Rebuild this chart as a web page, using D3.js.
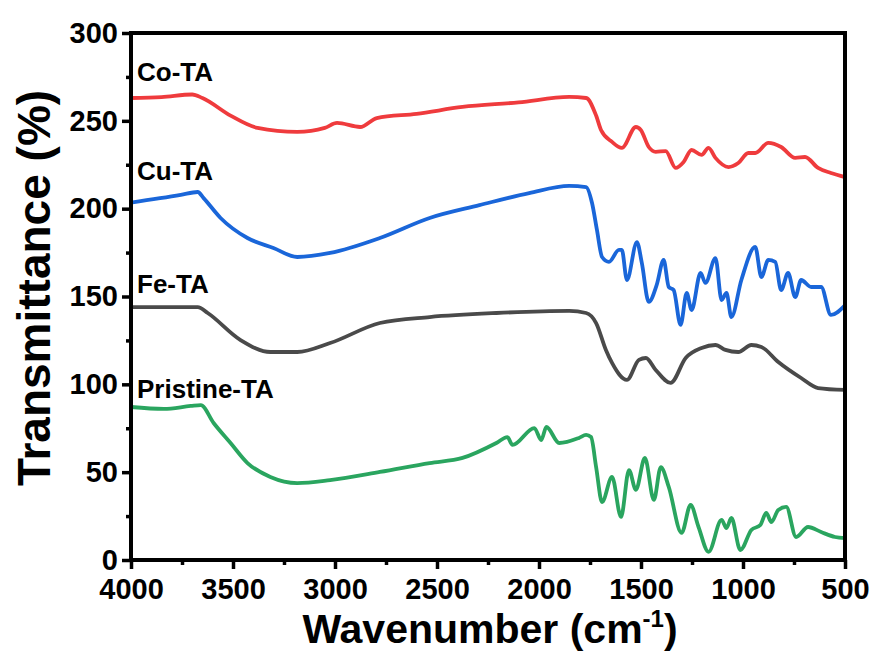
<!DOCTYPE html>
<html>
<head>
<meta charset="utf-8">
<script src="https://cdn.jsdelivr.net/npm/d3@7"></script>
<style>
  body { margin: 0; background: #fff; }
  text { font-family: "Liberation Sans", Arial, sans-serif; font-weight: bold; }
</style>
</head>
<body>
<div id="chart"></div>
<script>
// FTIR spectra, values as [wavenumber, transmittance]
var coTA = [[4000,263],[3850,263.5],[3700,265],[3650,263],[3512,253],[3380,246],[3185,243.7],[3050,246],[2990,248.8],[2877,246.5],[2795,251.6],[2600,254],[2375,257.9],[2100,260.5],[1852,263.6],[1769,263],[1720,253],[1696,244.8],[1642,238],[1594,234.6],[1525,246.5],[1501,244.8],[1462,235.1],[1428,232.3],[1379,232.8],[1330,223.2],[1291,226.6],[1252,233.4],[1203,230.6],[1169,234.6],[1135,228.9],[1071,223.7],[1023,226],[974,231.7],[940,231.7],[876,237.4],[813,235.1],[744,228.9],[696,229.4],[632,223.2],[569,220.3],[500,218]];

var cuTA = [[4000,203.5],[3756,207.8],[3673,209.5],[3644,206],[3561,194.7],[3429,183.3],[3302,177.6],[3185,172.5],[3024,174.8],[2780,183.3],[2536,194.7],[2292,202],[2048,208.9],[1852,213],[1769,212.3],[1740,203.2],[1716,187.9],[1691,172.5],[1657,169.7],[1608,176.5],[1594,176.5],[1569,159.4],[1520,181],[1496,169.1],[1462,146.9],[1423,156.6],[1389,170.8],[1364,155.4],[1340,153.7],[1306,133.8],[1276,152],[1252,142.3],[1208,163.4],[1184,157.7],[1135,171.9],[1105,148],[1081,152],[1057,138.3],[1008,159.4],[940,178.2],[910,161.1],[876,170.8],[842,169.7],[813,153.7],[779,163.4],[744,149.7],[715,159.4],[666,155.4],[617,155.4],[569,139.5],[500,145]];

var feTA = [[4000,144],[3673,144],[3624,140.6],[3463,125.2],[3317,118.4],[3185,118.4],[3024,123.5],[2780,134.9],[2536,138.3],[2209,140.6],[1852,141.8],[1769,140.6],[1720,134.9],[1672,119.6],[1642,112.2],[1569,102.5],[1510,113.9],[1476,115],[1428,108.2],[1355,100.8],[1281,115],[1203,120.7],[1135,122.4],[1086,119.6],[1023,118.4],[959,122.4],[910,121.3],[827,112.7],[715,103.6],[632,97.9],[500,96.8]];

var pristineTA = [[4000,87.1],[3839,86],[3707,87.7],[3658,88.2],[3595,78],[3512,66.6],[3429,55.2],[3317,47.3],[3185,43.8],[3024,45.5],[2780,50.1],[2536,55.2],[2375,58.1],[2209,66.6],[2155,70],[2130,65.5],[2023,75.1],[1989,68.3],[1964,75.7],[1901,66.6],[1804,69.5],[1769,71.2],[1745,70],[1720,52.9],[1691,33],[1642,47.3],[1598,24.5],[1559,51.2],[1525,39.9],[1481,58.1],[1437,34.2],[1403,52.9],[1364,41.6],[1301,15.4],[1257,31.3],[1218,18.8],[1169,4.6],[1105,22.8],[1081,18.2],[1057,23.9],[1013,5.7],[959,17.1],[915,19.9],[886,26.8],[861,21.6],[827,28.5],[788,30.2],[740,13.1],[681,18.8],[617,15.9],[549,13.1],[500,12.5]];

var seriesNames = ["Co-TA", "Cu-TA", "Fe-TA", "Pristine-TA"];
var seriesData = [coTA, cuTA, feTA, pristineTA];
var seriesColors = ["#ef3b3d", "#1a66d9", "#4a4a4a", "#2aa55f"];
var labelValues = [272.5, 216.5, 152, 92.5];   // baseline of the series names, in data units

var xTicks = [4000, 3500, 3000, 2500, 2000, 1500, 1000, 500];
var yTicks = [0, 50, 100, 150, 200, 250, 300];

(function () {
    var width = 883,
        height = 658;
    var margin = { top: 33, right: 38, bottom: 98, left: 131 };

    var svg = d3.select("#chart")
        .append("svg")
        .attr("width", width)
        .attr("height", height)

    var x = d3.scaleLinear().domain([4000, 500]).range([margin.left, width - margin.right])
    var y = d3.scaleLinear().domain([0, 300]).range([height - margin.bottom, margin.top])

    var line = d3.line()
        .x(function (d) { return x(d[0]) })
        .y(function (d) { return y(d[1]) })
        .curve(d3.curveMonotoneX)

    // spectra
    svg.selectAll(".spectrum")
        .data(seriesData)
        .enter()
        .append("path")
        .attr("class", "spectrum")
        .attr("fill", "none")
        .attr("stroke", function (d, i) { return seriesColors[i] })
        .attr("stroke-width", 3.8)
        .attr("stroke-linejoin", "round")
        .attr("d", line)

    // series names
    svg.selectAll(".name")
        .data(seriesNames)
        .enter()
        .append("text")
        .attr("class", "name")
        .attr("x", margin.left + 6)
        .attr("y", function (d, i) { return y(labelValues[i]) })
        .style("font-size", "26px")
        .text(function (d) { return d })

    // x axis, major + minor ticks
    var xAxis = svg.append("g")
        .attr("transform", "translate(0," + (height - margin.bottom) + ")")
        .call(d3.axisBottom(x).tickValues(xTicks).tickFormat(d3.format("d")).tickSize(9).tickSizeOuter(0).tickPadding(5))
    xAxis.append("g")
        .call(d3.axisBottom(x).tickValues(d3.range(3750, 500, -500)).tickSize(5).tickSizeOuter(0).tickFormat(""))

    var yAxis = svg.append("g")
        .attr("transform", "translate(" + margin.left + ",0)")
        .call(d3.axisLeft(y).tickValues(yTicks).tickFormat(d3.format("d")).tickSize(9).tickSizeOuter(0).tickPadding(4))
    yAxis.append("g")
        .call(d3.axisLeft(y).tickValues(d3.range(25, 300, 50)).tickSize(5).tickSizeOuter(0).tickFormat(""))

    svg.selectAll(".tick line").attr("stroke", "#000").attr("stroke-width", 3.5)
    svg.selectAll(".domain").remove()
    svg.selectAll(".tick text")
        .attr("fill", "#000")
        .style("font-size", "29px")
        .style("font-family", "'Liberation Sans', Arial, sans-serif")
        .style("font-weight", "bold")
    xAxis.selectAll(".tick text").attr("dy", "0.85em")

    // frame
    svg.append("rect")
        .attr("x", margin.left)
        .attr("y", margin.top)
        .attr("width", width - margin.left - margin.right)
        .attr("height", height - margin.top - margin.bottom)
        .attr("fill", "none")
        .attr("stroke", "#000")
        .attr("stroke-width", 4)

    // axis titles
    var xTitle = svg.append("text")
        .attr("x", (margin.left + width - margin.right) / 2 + 2)
        .attr("y", 643)
        .attr("text-anchor", "middle")
        .style("font-size", "41px")
    xTitle.append("tspan").text("Wavenumber (cm")
    xTitle.append("tspan").attr("dy", -16).style("font-size", "24px").text("-1")
    xTitle.append("tspan").attr("dy", 16).text(")")

    svg.append("text")
        .attr("transform", "translate(50," + 288 + ") rotate(-90)")
        .attr("text-anchor", "middle")
        .style("font-size", "46px")
        .text("Transmittance (%)")
})();
</script>
</body>
</html>
